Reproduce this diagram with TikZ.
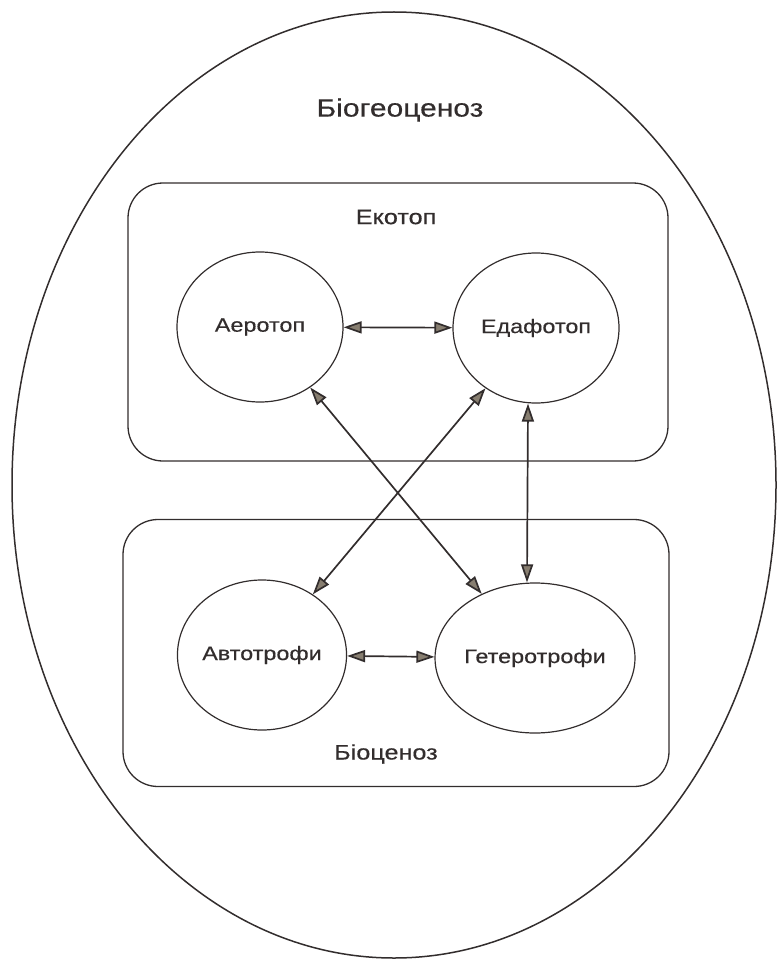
\documentclass[tikz,border=0pt]{standalone}
\usepackage{fontspec}
\setmainfont[FakeStretch=1.2,FakeBold=0.4]{Liberation Sans}
\usepackage{tikz}
\usepackage{xcolor}
\usetikzlibrary{calc}
\usetikzlibrary{positioning}
\usetikzlibrary{shapes.geometric}
\usetikzlibrary{arrows.meta}

\definecolor{inkgray}{RGB}{50,45,45}
\definecolor{tipgray}{RGB}{135,126,112}

\tikzset{
  part/.style={ellipse,draw=inkgray,line width=1.2pt,inner sep=0pt,minimum width=166pt,minimum height=150pt,font=\fontsize{19.5}{22}\selectfont,text=inkgray},
  level/.style={draw=inkgray,line width=1.3pt,rounded corners=35pt},
  lbl/.style={font=\fontsize{21}{24}\selectfont,text=inkgray},
  link/.style={inkgray,line width=1.7pt,{Triangle[length=18pt,width=12pt,fill=tipgray]}-{Triangle[length=18pt,width=12pt,fill=tipgray]}}
}

\begin{document}
\begin{tikzpicture}[x=1pt,y=-1pt]
\useasboundingbox (0,0) rectangle (777,960);

\node[ellipse,draw=inkgray,line width=1.5pt,minimum width=764pt,minimum height=946pt] (bgc) at (394,485) {};
\node[lbl,font=\fontsize{25}{28}\selectfont] (bgctext) at (400,110) {Біогеоценоз};

\node[level,minimum width=540pt,minimum height=278pt] (ekotop) at (398,322) {};
\node[level,minimum width=546pt,minimum height=267pt] (biocenoz) at (396,653) {};
\node[lbl] (ekotoptext) at (396,217) {Екотоп};
\node[lbl] (biocenoztext) at (386,754) {Біоценоз};

\node[part] (aero) at (260,327) {Аеротоп};
\node[part] (edafo) at (536,328) {Едафотоп};
\node[part] (avto) at (262,655) {Автотрофи};
\node[part] (getero) at (535,658) {Гетеротрофи};

\draw[link] (aero) -- (edafo);
\draw[link] (avto) -- (getero);
\draw[link] (aero) -- (getero);
\draw[link] (edafo) -- (avto);
\draw[link] ([xshift=-8pt]edafo.south) -- ([xshift=-8pt]getero.north);

\end{tikzpicture}
\end{document}
